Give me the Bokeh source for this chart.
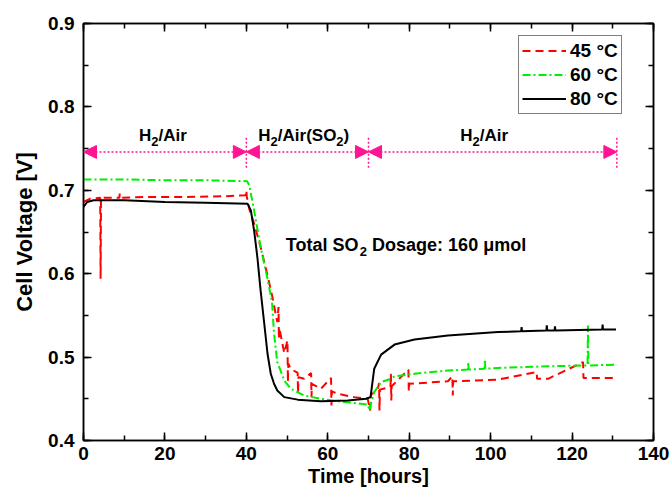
from bokeh.plotting import figure
from bokeh.models import (LinearAxis, SingleIntervalTicker, Arrow, NormalHead,
                          Range1d, Label)
from bokeh.embed import file_html
from bokeh.resources import INLINE

# ---------------- data ----------------
t45 = [0, 1.7, 4.1, 4.2, 4.3, 8.8, 8.9, 9.0, 15.7, 25, 35, 39.8, 40.0, 40.1,
       40.7, 41.9, 43.5, 45.1, 46.4, 47.6, 47.9, 48.0, 48.1, 49.3, 50.1, 50.2,
       50.3, 50.9, 52.6, 52.7, 52.8, 54.2, 55.9, 56.0, 56.1, 58.3, 60.8, 60.9,
       61.0, 62.4, 66.5, 69.8, 70.4, 70.6, 72.2, 72.6, 72.7, 72.8, 75.4, 75.5,
       75.6, 75.7, 79.8, 79.9, 80.0, 89.5, 90.6, 90.7, 90.8, 101.8, 111.3,
       111.4, 114.1, 122.7, 122.8, 130.8]
v45 = [0.686, 0.690, 0.691, 0.594, 0.691, 0.691, 0.696, 0.691, 0.692, 0.692,
       0.693, 0.694, 0.700, 0.693, 0.678, 0.660, 0.632, 0.600, 0.572, 0.542,
       0.560, 0.522, 0.535, 0.505, 0.520, 0.470, 0.492, 0.486, 0.481, 0.457,
       0.476, 0.474, 0.481, 0.452, 0.468, 0.462, 0.475, 0.442, 0.459, 0.456,
       0.452, 0.450, 0.436, 0.455, 0.460, 0.469, 0.436, 0.461, 0.464, 0.480,
       0.448, 0.465, 0.485, 0.459, 0.468, 0.471, 0.477, 0.454, 0.471, 0.473,
       0.482, 0.474, 0.474, 0.494, 0.475, 0.475]

t60 = [0, 10, 20, 30, 40.2, 40.7, 41.9, 43.5, 45.1, 46.3, 46.8, 47.6, 49.3,
       50.9, 54.2, 58.3, 62.4, 66.5, 69.8, 70.3, 70.6, 71.4, 73.1, 75.5, 76.4,
       81.3, 89.5, 94.4, 94.5, 94.6, 98.5, 98.6, 98.7, 101.8, 114.1, 123.8,
       123.9, 124.0, 130.8]
v60 = [0.713, 0.713, 0.712, 0.712, 0.711, 0.706, 0.676, 0.632, 0.596, 0.566,
       0.528, 0.494, 0.472, 0.462, 0.454, 0.450, 0.447, 0.445, 0.443, 0.436,
       0.445, 0.458, 0.470, 0.474, 0.477, 0.480, 0.484, 0.485, 0.494, 0.485,
       0.486, 0.497, 0.486, 0.487, 0.489, 0.490, 0.538, 0.490, 0.491]

t80 = [0, 0.9, 2.5, 10, 20, 30, 40.3, 41.1, 41.9, 42.7, 43.5, 44.4, 45.2,
       46.0, 46.8, 47.6, 49.3, 52.6, 58.3, 64.9, 69.4, 70.5, 71.4, 73.1, 76.4,
       81.3, 89.5, 101.8, 107.5, 107.6, 107.7, 113.7, 113.8, 113.9, 115.7,
       115.8, 115.9, 127.4, 127.5, 127.6, 130.8]
v80 = [0.680, 0.686, 0.688, 0.688, 0.686, 0.685, 0.684, 0.676, 0.652, 0.620,
       0.580, 0.540, 0.504, 0.480, 0.468, 0.460, 0.452, 0.449, 0.447, 0.448,
       0.450, 0.452, 0.486, 0.503, 0.515, 0.521, 0.526, 0.530, 0.531, 0.536,
       0.531, 0.532, 0.538, 0.532, 0.532, 0.537, 0.532, 0.533, 0.539, 0.533,
       0.533]

series_labels = ["45 \u00b0C", "60 \u00b0C", "80 \u00b0C"]
phase_bounds = [0, 40, 70, 131]
# label pieces: (text, is_subscript)
phase_labels = [
    [("H", False), ("2", True), ("/Air", False)],
    [("H", False), ("2", True), ("/Air(SO", False), ("2", True), (")", False)],
    [("H", False), ("2", True), ("/Air", False)],
]
phase_label_x = [19.5, 54.1, 98.4]
phase_label_v = 0.766
phase_arrow_v = 0.746
dosage_label = [("Total SO", False), ("2", True),
                ("\u00a0Dosage: 160 \u03bcmol", False)]
dosage_x, dosage_v = 49.7, 0.634

# ---------------- figure ----------------
FONT = "Liberation Sans"
PINK = "#FF1493"

p = figure(width=669, height=492, output_backend="svg", toolbar_location=None,
           x_range=Range1d(0, 140), y_range=Range1d(0.4, 0.9),
           min_border_left=83, min_border_right=16, min_border_top=23,
           min_border_bottom=52, x_axis_label="Time [hours]",
           y_axis_label="Cell Voltage [V]")
p.background_fill_color = "white"
p.border_fill_color = "white"
p.outline_line_color = "black"
p.outline_line_width = 1.5
p.xgrid.visible = False
p.ygrid.visible = False

p.xaxis.ticker = SingleIntervalTicker(interval=20, num_minor_ticks=2)
p.yaxis.ticker = SingleIntervalTicker(interval=0.1, num_minor_ticks=2)


def style_axis(ax, labels=True):
    ax.axis_line_color = "black"
    ax.axis_line_width = 1.5
    ax.major_tick_in = 8
    ax.major_tick_out = 0
    ax.minor_tick_in = 5
    ax.minor_tick_out = 0
    ax.major_tick_line_width = 1.5
    ax.minor_tick_line_width = 1.5
    ax.major_tick_line_color = "black"
    ax.minor_tick_line_color = "black"
    if labels:
        ax.major_label_text_font = FONT
        ax.major_label_text_font_style = "bold"
        ax.major_label_text_font_size = "19px"
        ax.major_label_text_color = "black"
        ax.axis_label_text_font = FONT
        ax.axis_label_text_font_style = "bold"
        ax.axis_label_text_color = "black"
    else:
        ax.major_label_text_font_size = "1px"
        ax.major_label_text_color = None
        ax.major_label_standoff = 0


style_axis(p.xaxis[0])
style_axis(p.yaxis[0])
p.xaxis[0].axis_label_text_font_size = "20px"
p.yaxis[0].axis_label_text_font_size = "22px"
p.xaxis[0].major_label_standoff = 6
p.xaxis[0].axis_label_standoff = 2
p.yaxis[0].major_label_standoff = 9
p.yaxis[0].axis_label_standoff = 8

top_ax = LinearAxis(ticker=SingleIntervalTicker(interval=20, num_minor_ticks=2))
right_ax = LinearAxis(ticker=SingleIntervalTicker(interval=0.1, num_minor_ticks=2))
style_axis(top_ax, labels=False)
style_axis(right_ax, labels=False)
p.add_layout(top_ax, "above")
p.add_layout(right_ax, "right")

# ---------------- series ----------------
p.line(t45, v45, line_color="#FF0000", line_width=2, line_dash="8 5",
       legend_label=series_labels[0])
p.line(t60, v60, line_color="#00EE00", line_width=2, line_dash="8 3 2 3",
       legend_label=series_labels[1])
p.line(t80, v80, line_color="black", line_width=2,
       legend_label=series_labels[2])

# ---------------- phase annotations ----------------
for i in range(len(phase_bounds) - 1):
    p.add_layout(Arrow(
        start=NormalHead(size=13, fill_color=PINK, line_color=PINK),
        end=NormalHead(size=13, fill_color=PINK, line_color=PINK),
        x_start=phase_bounds[i], y_start=phase_arrow_v,
        x_end=phase_bounds[i + 1], y_end=phase_arrow_v,
        line_color=PINK, line_width=1.5, line_dash="2 2"))

p.segment(x0=phase_bounds[1:], y0=[phase_arrow_v - 0.019] * 3,
          x1=phase_bounds[1:], y1=[phase_arrow_v + 0.017] * 3,
          line_color=PINK, line_width=1.5, line_dash="2 2")

# approximate Arial/Liberation Sans Bold advance widths (em)
W = {" ": .278, "\u00a0": .278, "(": .333, ")": .333, "/": .278, ":": .333,
     "A": .722, "D": .722, "H": .722, "O": .778, "S": .667, "T": .611,
     "a": .556, "e": .556, "g": .611, "i": .278, "l": .278, "m": .889,
     "o": .611, "r": .389, "s": .556, "t": .333, "\u03bc": .576}


def tw(s, size):
    return sum(W.get(c, .556) for c in s) * size


def rich_label(pieces, x, y, size, sub_size, centered):
    widths = [tw(t, sub_size if sub else size) for t, sub in pieces]
    off = -sum(widths) / 2 if centered else 0
    for (t, sub), w in zip(pieces, widths):
        p.add_layout(Label(x=x, y=y, x_offset=off, y_offset=-6 if sub else 0,
                           text=t, text_font=FONT, text_font_style="bold",
                           text_font_size=f"{sub_size if sub else size}px",
                           text_align="left", text_baseline="middle",
                           text_color="black"))
        off += w


for pieces, lx in zip(phase_labels, phase_label_x):
    rich_label(pieces, lx, phase_label_v, 17, 13, True)

rich_label(dosage_label, dosage_x, dosage_v, 18, 13, False)

# ---------------- legend ----------------
lg = p.legend[0]
lg.location = (435, 326)
lg.border_line_color = "black"
lg.border_line_width = 1
lg.background_fill_color = "white"
lg.background_fill_alpha = 1
lg.label_text_font = FONT
lg.label_text_font_style = "bold"
lg.label_text_font_size = "19px"
lg.label_text_color = "black"
lg.glyph_width = 44
lg.glyph_height = 23
lg.label_height = 23
lg.label_standoff = 4
lg.padding = 3
lg.spacing = 1
lg.margin = 0

open("out.html", "w").write(file_html(p, INLINE))
